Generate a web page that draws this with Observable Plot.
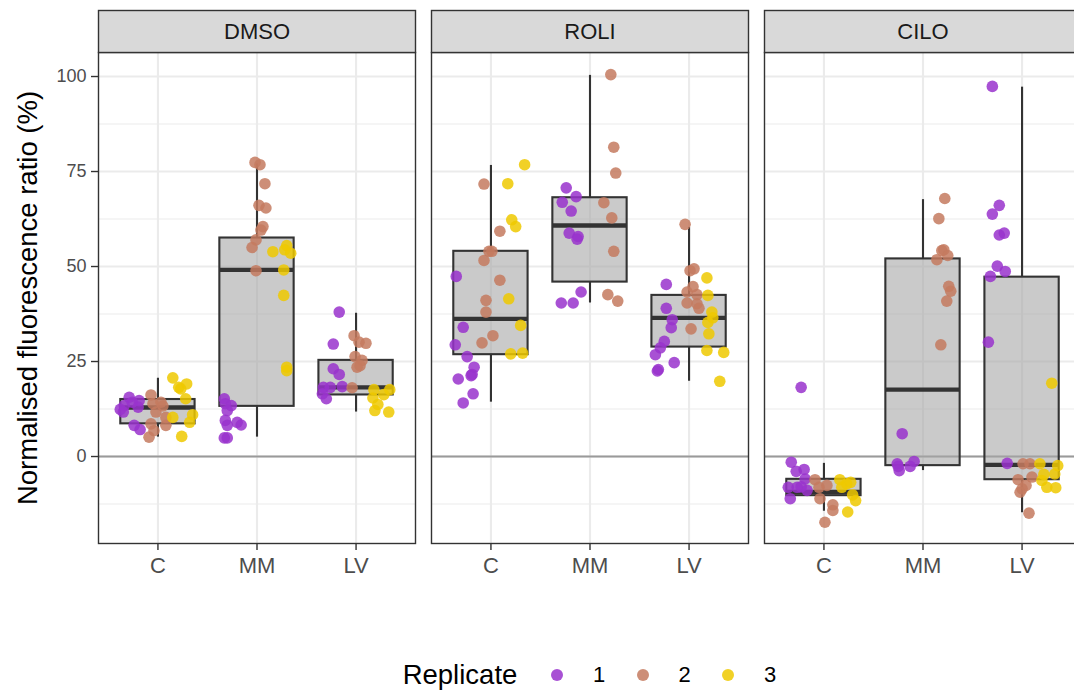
<!DOCTYPE html>
<html><head><meta charset="utf-8">
<script src="https://cdn.jsdelivr.net/npm/d3@7"></script>
<script src="https://cdn.jsdelivr.net/npm/@observablehq/plot@0.6"></script>
<style>
html,body{margin:0;padding:0;background:#fff;overflow:hidden;width:1074px;height:691px;}
#chart{position:absolute;left:0;top:0;width:1093px;}
#chart svg{max-width:none !important;width:1093px !important;height:640px !important;display:block;}
#legend{position:absolute;left:0;top:640px;width:1074px;height:51px;font-family:"Liberation Sans",Arial,sans-serif;color:#000;}
#legend .item{position:absolute;top:35px;line-height:1;transform:translate(-50%,-50%);white-space:nowrap;}
#legend .dot{width:12px;height:12px;border-radius:50%;}
</style></head><body>
<div id="chart"></div><div id="legend"></div>
<script>
const treatments = ["DMSO","ROLI","CILO"];
const groups = ["C","MM","LV"];
const replicates = ["1","2","3"];
const replicateColors = ["#9932CC","#C47A5F","#EEC900"];
const yTicks = [0,25,50,75,100];
const yMinor = [-12.5,12.5,37.5,62.5,87.5];

// box statistics (treatment x group)
const boxTreatment = ["DMSO","DMSO","DMSO","ROLI","ROLI","ROLI","CILO","CILO","CILO"];
const boxGroup = ["C","MM","LV","C","MM","LV","C","MM","LV"];
const boxLower = [5.1,5.1,11.7,14.3,40.4,19.8,-14.4,-3.7,-14.8];
const boxQ1 = [8.6,13.2,16.2,26.8,45.9,28.8,-10.3,-2.4,-6.1];
const boxMedian = [12.9,49.1,18.2,36.2,60.8,36.5,-9.3,17.6,-2.2];
const boxQ3 = [15.0,57.5,25.3,54.0,68.1,42.4,-6.0,52.0,47.2];
const boxUpper = [20.6,77.0,37.7,76.6,100.3,60.3,-1.8,67.6,97.2];

// points: [group, replicate, jitter, value]
const pointsDMSO = [
 ["C","1",-0.29,15.6],["C","1",-0.19,14.7],["C","1",-0.34,13.4],["C","1",-0.20,13.0],["C","1",-0.35,11.7],
 ["C","1",-0.24,8.2],["C","1",-0.18,7.1],["C","1",-0.26,14.3],["C","1",-0.38,12.4],
 ["C","2",-0.07,16.2],["C","2",0.03,14.3],["C","2",-0.05,13.9],["C","2",-0.02,11.7],["C","2",0.08,10.3],
 ["C","2",-0.07,8.6],["C","2",0.08,8.2],["C","2",-0.04,6.8],["C","2",-0.09,5.1],["C","2",0.05,13.3],
 ["C","3",0.15,20.7],["C","3",0.21,18.2],["C","3",0.29,19.1],["C","3",0.28,15.2],["C","3",0.15,10.3],
 ["C","3",0.35,11.0],["C","3",0.32,9.0],["C","3",0.24,5.3],["C","3",0.23,17.8],
 ["MM","1",-0.33,15.2],["MM","1",-0.32,13.9],["MM","1",-0.26,13.4],["MM","1",-0.30,12.1],["MM","1",-0.32,9.5],
 ["MM","1",-0.30,8.2],["MM","1",-0.20,9.0],["MM","1",-0.16,8.3],["MM","1",-0.33,4.9],["MM","1",-0.30,4.9],
 ["MM","2",-0.02,77.4],["MM","2",0.03,76.8],["MM","2",0.08,71.8],["MM","2",0.02,66.1],["MM","2",0.09,65.4],
 ["MM","2",0.06,60.5],["MM","2",0.04,59.6],["MM","2",-0.01,57.0],["MM","2",-0.05,55.0],["MM","2",-0.01,48.9],
 ["MM","3",0.16,53.9],["MM","3",0.30,55.5],["MM","3",0.28,54.4],["MM","3",0.34,53.5],["MM","3",0.27,49.1],
 ["MM","3",0.27,42.4],["MM","3",0.30,23.5],["MM","3",0.30,22.6],
 ["LV","1",-0.17,38.0],["LV","1",-0.23,29.6],["LV","1",-0.23,23.1],["LV","1",-0.17,21.6],["LV","1",-0.14,18.4],
 ["LV","1",-0.26,18.2],["LV","1",-0.33,18.2],["LV","1",-0.34,16.5],["LV","1",-0.30,15.2],
 ["LV","2",-0.02,31.8],["LV","2",0.03,30.1],["LV","2",0.10,29.8],["LV","2",-0.01,26.3],["LV","2",0.06,25.3],
 ["LV","2",0.04,23.9],["LV","2",0.01,23.5],["LV","2",-0.04,18.1],
 ["LV","3",0.18,17.6],["LV","3",0.34,17.6],["LV","3",0.28,16.3],["LV","3",0.17,15.4],["LV","3",0.22,13.7],
 ["LV","3",0.19,12.1],["LV","3",0.33,11.7]
];
const pointsROLI = [
 ["C","1",-0.35,47.4],["C","1",-0.28,34.0],["C","1",-0.36,29.4],["C","1",-0.24,26.3],["C","1",-0.17,23.5],
 ["C","1",-0.20,21.3],["C","1",-0.19,21.6],["C","1",-0.33,20.4],["C","1",-0.18,16.5],["C","1",-0.28,14.1],
 ["C","2",-0.07,71.7],["C","2",0.09,59.3],["C","2",-0.02,54.0],["C","2",0.01,54.0],["C","2",-0.07,51.6],
 ["C","2",0.09,46.4],["C","2",-0.05,41.1],["C","2",-0.05,38.0],["C","2",0.02,31.8],["C","2",-0.09,29.9],
 ["C","3",0.34,76.8],["C","3",0.17,71.8],["C","3",0.21,62.3],["C","3",0.25,60.5],["C","3",0.18,41.5],
 ["C","3",0.30,34.5],["C","3",0.20,27.0],["C","3",0.32,27.2],
 ["MM","1",-0.24,70.7],["MM","1",-0.14,68.4],["MM","1",-0.28,66.9],["MM","1",-0.19,64.6],["MM","1",-0.21,58.8],
 ["MM","1",-0.12,57.9],["MM","1",-0.13,57.2],["MM","1",-0.09,43.3],["MM","1",-0.29,40.4],["MM","1",-0.17,40.4],
 ["MM","2",0.21,100.5],["MM","2",0.24,81.4],["MM","2",0.26,74.6],["MM","2",0.14,66.8],["MM","2",0.22,62.8],
 ["MM","2",0.24,54.0],["MM","2",0.18,42.6],["MM","2",0.28,40.9],
 ["LV","1",-0.23,45.3],["LV","1",-0.23,39.0],["LV","1",-0.17,36.0],["LV","1",-0.18,33.9],["LV","1",-0.25,30.3],
 ["LV","1",-0.29,28.6],["LV","1",-0.34,26.8],["LV","1",-0.15,24.7],["LV","1",-0.31,22.9],["LV","1",-0.32,22.5],
 ["LV","2",-0.04,61.1],["LV","2",0.01,48.9],["LV","2",0.05,49.4],["LV","2",0.04,44.7],["LV","2",-0.02,43.3],
 ["LV","2",0.08,42.6],["LV","2",-0.02,40.4],["LV","2",0.08,40.2],["LV","2",0.10,39.0],["LV","2",0.02,33.6],
 ["LV","3",0.18,47.0],["LV","3",0.19,42.4],["LV","3",0.23,38.0],["LV","3",0.19,35.3],["LV","3",0.20,32.3],
 ["LV","3",0.18,27.9],["LV","3",0.35,27.4],["LV","3",0.31,19.8],["LV","3",0.24,36.5]
];
const pointsCILO = [
 ["C","1",-0.23,18.2],["C","1",-0.33,-1.5],["C","1",-0.28,-3.9],["C","1",-0.20,-3.4],["C","1",-0.19,-5.9],
 ["C","1",-0.36,-8.1],["C","1",-0.27,-8.1],["C","1",-0.17,-8.9],["C","1",-0.34,-11.1],["C","1",-0.23,-8.0],
 ["C","2",-0.09,-6.1],["C","2",-0.05,-8.1],["C","2",0.03,-7.6],["C","2",-0.04,-11.1],["C","2",0.09,-12.7],
 ["C","2",0.09,-14.2],["C","2",0.01,-17.3],
 ["C","3",0.16,-6.1],["C","3",0.23,-7.2],["C","3",0.18,-8.1],["C","3",0.29,-10.1],["C","3",0.32,-11.6],
 ["C","3",0.24,-14.6],["C","3",0.27,-6.8],
 ["MM","1",-0.21,6.0],["MM","1",-0.26,-1.9],["MM","1",-0.24,-3.7],["MM","1",-0.13,-2.6],["MM","1",-0.09,-1.3],
 ["MM","1",-0.25,-2.6],
 ["MM","2",0.22,67.9],["MM","2",0.16,62.6],["MM","2",0.19,54.2],["MM","2",0.21,54.4],["MM","2",0.25,52.9],
 ["MM","2",0.14,51.8],["MM","2",0.26,44.8],["MM","2",0.28,43.5],["MM","2",0.24,40.9],["MM","2",0.18,29.4],
 ["LV","1",-0.30,97.4],["LV","1",-0.23,66.1],["LV","1",-0.30,63.8],["LV","1",-0.18,58.8],["LV","1",-0.23,58.3],
 ["LV","1",-0.25,50.1],["LV","1",-0.17,48.7],["LV","1",-0.32,47.4],["LV","1",-0.34,30.1],["LV","1",-0.15,-1.8],
 ["LV","2",0.01,-1.9],["LV","2",0.08,-1.9],["LV","2",0.10,-5.4],["LV","2",-0.04,-6.1],["LV","2",0.04,-7.6],
 ["LV","2",0.00,-8.5],["LV","2",-0.02,-9.4],["LV","2",0.07,-14.9],
 ["LV","3",0.30,19.3],["LV","3",0.18,-1.9],["LV","3",0.36,-2.4],["LV","3",0.22,-4.7],["LV","3",0.33,-4.6],
 ["LV","3",0.20,-6.3],["LV","3",0.25,-8.1],["LV","3",0.34,-8.2]
];

const pointSets = {DMSO: pointsDMSO, ROLI: pointsROLI, CILO: pointsCILO};
const points = treatments.flatMap(t => pointSets[t].map(([g, r, j, v]) => ({
  treatment: t, pos: groups.indexOf(g) + 1, rep: r, jitter: j, value: v
})));
const boxes = boxTreatment.map((t, i) => ({
  treatment: t, pos: groups.indexOf(boxGroup[i]) + 1,
  lo: boxLower[i], q1: boxQ1[i], med: boxMedian[i], q3: boxQ3[i], hi: boxUpper[i]
}));
const half = 0.375;

const plot = Plot.plot({
  width: 1093, height: 640,
  marginLeft: 97, marginRight: 11.5, marginTop: 52, marginBottom: 97,
  style: {fontFamily: '"Liberation Sans", Arial, sans-serif', background: "white", overflow: "visible", maxWidth: "none"},
  fx: {domain: treatments, paddingInner: 0.047, paddingOuter: 0, axis: null, label: null},
  x: {domain: [0.4, 3.6], axis: null},
  y: {domain: [-22.89, 106.32], axis: null},
  color: {domain: replicates, range: replicateColors},
  marks: [
    Plot.frame({fill: "white"}),
    Plot.ruleY(yMinor, {stroke: "#ebebeb", strokeWidth: 1.1}),
    Plot.ruleY(yTicks, {stroke: "#ebebeb", strokeWidth: 2.1}),
    Plot.ruleX([1, 2, 3], {stroke: "#ebebeb", strokeWidth: 2.1}),
    Plot.ruleY([0], {stroke: "#9a9a9a", strokeWidth: 2.1}),
    Plot.ruleX(boxes, {fx: "treatment", x: "pos", y1: "q3", y2: "hi", stroke: "#333", strokeWidth: 2.1}),
    Plot.ruleX(boxes, {fx: "treatment", x: "pos", y1: "lo", y2: "q1", stroke: "#333", strokeWidth: 2.1}),
    Plot.rect(boxes, {fx: "treatment", x1: d => d.pos - half, x2: d => d.pos + half, y1: "q1", y2: "q3",
      fill: "#a6a6a6", fillOpacity: 0.6, stroke: "#333", strokeWidth: 2.1}),
    Plot.ruleY(boxes, {fx: "treatment", y: "med", x1: d => d.pos - half, x2: d => d.pos + half, stroke: "#333", strokeWidth: 4.3}),
    Plot.dot(points, {fx: "treatment", x: d => d.pos + d.jitter, y: "value", fill: "rep", r: 5.8, fillOpacity: 0.85}),
    Plot.frame({stroke: "#333", strokeWidth: 1.4}),
    Plot.frame({fill: "#d9d9d9", stroke: "#333", strokeWidth: 1.4, insetTop: -42, insetBottom: 491}),
    Plot.text(treatments, {fx: d => d, text: d => d, frameAnchor: "top", lineAnchor: "middle", dy: -21, fontSize: 22, fill: "#1a1a1a"}),
    Plot.axisX([1, 2, 3], {tickFormat: d => groups[d - 1], tickSize: 7, tickPadding: 7, fontSize: 22, color: "#4d4d4d", stroke: "#333", strokeWidth: 1.4, label: null}),
    Plot.axisY(yTicks, {tickSize: 7, tickPadding: 5, fontSize: 18, color: "#4d4d4d", stroke: "#333", strokeWidth: 1.4, label: null}),
    Plot.text(["Normalised fluorescence ratio (%)"], {fx: () => "DMSO", text: d => d, frameAnchor: "left", textAnchor: "middle", lineAnchor: "middle", dx: -70, rotate: -90, fontSize: 27.5, fill: "black"})
  ]
});
document.getElementById("chart").appendChild(plot);

// legend
const legend = document.getElementById("legend");
const title = document.createElement("div");
title.className = "item"; title.style.left = "460px"; title.style.fontSize = "27.5px"; title.textContent = "Replicate";
legend.appendChild(title);
replicates.forEach((r, i) => {
  const dot = document.createElement("div");
  dot.className = "item dot";
  dot.style.left = (557 + 85.5 * i) + "px";
  dot.style.background = replicateColors[i];
  dot.style.opacity = 0.85;
  legend.appendChild(dot);
  const lab = document.createElement("div");
  lab.className = "item";
  lab.style.left = (599 + 85.5 * i) + "px";
  lab.style.fontSize = "22px";
  lab.textContent = r;
  legend.appendChild(lab);
});
</script></body></html>
